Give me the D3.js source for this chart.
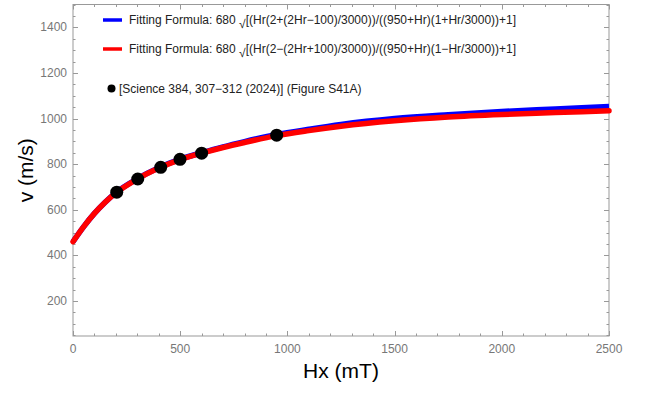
<!DOCTYPE html>
<html lang="en">
<head>
  <meta charset="UTF-8">
  <title>v vs Hx</title>
  <style>
    body { margin: 0; background: #fff; }
    svg { display: block; font-family: "Liberation Sans", Arial, sans-serif; }
  </style>
</head>
<body>
  <div id="chart"></div>
  <script src="https://d3js.org/d3.v7.min.js"></script>
  <script>

    // curve samples (Hx in mT, v in m/s)
    const hx = [0, 50, 100, 150, 200, 300, 400, 500, 600, 700, 800, 950, 1100, 1250, 1500, 1750, 2000, 2250, 2500];
    const vBlue = [460, 526, 584, 633, 675, 736, 784, 822, 850, 876, 899, 930, 953, 974, 1000, 1017, 1031, 1042, 1053];
    const vRed = [460, 526, 584, 633, 674, 735, 783, 820, 848, 873, 895, 925, 947, 966, 990, 1007, 1018, 1026, 1034];

    // measured points
    const ptX = [204, 302, 409, 499, 600, 950];
    const ptV = [677, 735, 786, 821, 848, 927];

    const xTicks = [0, 500, 1000, 1500, 2000, 2500];
    const yTicks = [200, 400, 600, 800, 1000, 1200, 1400];

    const width = 649,
          height = 394,
          margin = {top: 4.5, right: 40, bottom: 58, left: 73};

    const svg = d3.select("#chart")
      .append("svg")
      .attr("width", width)
      .attr("height", height);

    const x = d3.scaleLinear([0, 2500], [margin.left, width - margin.right]);
    const y = d3.scaleLinear([46.5, 1500], [height - margin.bottom, margin.top]);

    const axisColor = "#999";
    const labColor = "#777";

    // frame
    svg.append("rect")
      .attr("x", margin.left)
      .attr("y", margin.top)
      .attr("width", width - margin.left - margin.right)
      .attr("height", height - margin.top - margin.bottom)
      .attr("fill", "none")
      .attr("stroke", axisColor)
      .attr("stroke-width", 1);

    // inward ticks on all four sides
    const xMinor = d3.range(0, 2501, 100);
    const yMinor = d3.range(50, 1501, 50);
    const ticks = svg.append("g").attr("stroke", axisColor).attr("stroke-width", 1);

    xMinor.forEach(v => {
      const len = v % 500 === 0 ? 5 : 2.5;
      const px = Math.round(x(v)) + 0.5;
      ticks.append("line").attr("x1", px).attr("x2", px)
        .attr("y1", y.range()[0]).attr("y2", y.range()[0] - len);
      ticks.append("line").attr("x1", px).attr("x2", px)
        .attr("y1", y.range()[1]).attr("y2", y.range()[1] + len);
    });
    yMinor.forEach(v => {
      const len = v % 200 === 0 ? 5 : 2.5;
      const py = Math.round(y(v)) + 0.5;
      ticks.append("line").attr("y1", py).attr("y2", py)
        .attr("x1", x.range()[0]).attr("x2", x.range()[0] + len);
      ticks.append("line").attr("y1", py).attr("y2", py)
        .attr("x1", x.range()[1]).attr("x2", x.range()[1] - len);
    });

    // tick labels
    svg.append("g")
      .selectAll("text")
      .data(xTicks)
      .join("text")
      .attr("x", d => x(d))
      .attr("y", height - margin.bottom + 17)
      .attr("text-anchor", "middle")
      .attr("fill", labColor)
      .style("font-size", "12px")
      .text(d => d);

    svg.append("g")
      .selectAll("text")
      .data(yTicks)
      .join("text")
      .attr("x", margin.left - 6)
      .attr("y", d => y(d) + 4)
      .attr("text-anchor", "end")
      .attr("fill", labColor)
      .style("font-size", "12px")
      .text(d => d);

    // axis titles
    svg.append("text")
      .attr("x", (x.range()[0] + x.range()[1]) / 2)
      .attr("y", 378)
      .attr("text-anchor", "middle")
      .style("font-size", "21px")
      .text("Hx (mT)");

    svg.append("text")
      .attr("transform", `translate(33,${(y.range()[0] + y.range()[1]) / 2}) rotate(-90)`)
      .attr("text-anchor", "middle")
      .style("font-size", "21px")
      .text("v (m/s)");

    // curves
    const line = d3.line()
      .x(d => x(d[0]))
      .y(d => y(d[1]))
      .curve(d3.curveMonotoneX);

    svg.append("path")
      .datum(hx.map((h, i) => [h, vBlue[i]]))
      .attr("d", line)
      .attr("fill", "none")
      .attr("stroke", "#0000ff")
      .attr("stroke-width", 5.5);

    svg.append("path")
      .datum(hx.map((h, i) => [h, vRed[i]]))
      .attr("d", line)
      .attr("fill", "none")
      .attr("stroke", "#ff0000")
      .attr("stroke-width", 5.5)
      .attr("stroke-linecap", "round");

    // points
    svg.append("g")
      .selectAll("circle")
      .data(ptX)
      .join("circle")
      .attr("cx", d => x(d))
      .attr("cy", (d, i) => y(ptV[i]))
      .attr("r", 6.5)
      .attr("fill", "#000");

    // legend
    const legend = svg.append("g").style("font-size", "12px").attr("fill", "#222");

    const formulas = [
      ["#0000ff", "[(Hr(2+(2Hr\u2212100)/3000))/((950+Hr)(1+Hr/3000))+1]"],
      ["#ff0000", "[(Hr(2\u2212(2Hr+100)/3000))/((950+Hr)(1\u2212Hr/3000))+1]"]
    ];
    formulas.forEach((f, i) => {
      const ly = 20 + i * 29;
      legend.append("line")
        .attr("x1", 103).attr("x2", 122)
        .attr("y1", ly).attr("y2", ly)
        .attr("stroke", f[0])
        .attr("stroke-width", 3.5);
      const t = legend.append("text")
        .attr("x", 129)
        .attr("y", ly + 4);
      t.append("tspan").text("Fitting Formula: 680 ");
      t.append("tspan").attr("dy", 4).text("\u221A");
      t.append("tspan").attr("dy", -4).text(f[1]);
    });

    legend.append("circle")
      .attr("cx", 111.5)
      .attr("cy", 88.5)
      .attr("r", 4)
      .attr("fill", "#000");
    legend.append("text")
      .attr("x", 119)
      .attr("y", 92.5)
      .text("[Science 384, 307\u2212312 (2024)] (Figure S41A)");

  </script>
</body>
</html>
